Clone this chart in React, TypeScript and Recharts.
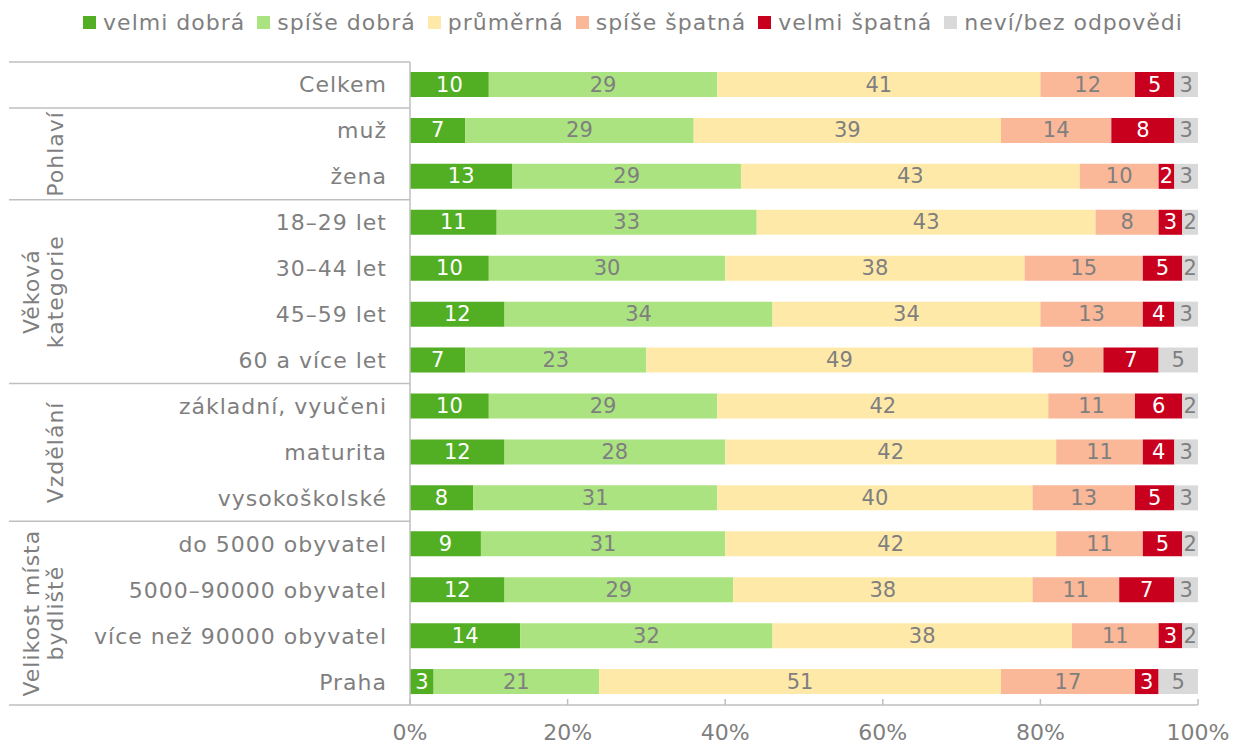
import React from 'react';
import { BarChart, Bar, XAxis, YAxis, Legend, LabelList } from 'recharts';

const categories = [
  'Celkem',
  'muž',
  'žena',
  '18–29 let',
  '30–44 let',
  '45–59 let',
  '60 a více let',
  'základní, vyučeni',
  'maturita',
  'vysokoškolské',
  'do 5000 obyvatel',
  '5000–90000 obyvatel',
  'více než 90000 obyvatel',
  'Praha',
];

const velmiDobra = [10, 7, 13, 11, 10, 12, 7, 10, 12, 8, 9, 12, 14, 3];
const spiseDobra = [29, 29, 29, 33, 30, 34, 23, 29, 28, 31, 31, 29, 32, 21];
const prumerna = [41, 39, 43, 43, 38, 34, 49, 42, 42, 40, 42, 38, 38, 51];
const spiseSpatna = [12, 14, 10, 8, 15, 13, 9, 11, 11, 13, 11, 11, 11, 17];
const velmiSpatna = [5, 8, 2, 3, 5, 4, 7, 6, 4, 5, 5, 7, 3, 3];
const nevi = [3, 3, 3, 2, 2, 3, 5, 2, 3, 3, 2, 3, 2, 5];

const xTicks = [0, 20, 40, 60, 80, 100];

// row groups of the two-level category axis
const groups = [
  { lines: [] as string[], from: 0, to: 0 },
  { lines: ['Pohlaví'], from: 1, to: 2 },
  { lines: ['Věková', 'kategorie'], from: 3, to: 6 },
  { lines: ['Vzdělání'], from: 7, to: 9 },
  { lines: ['Velikost místa', 'bydliště'], from: 10, to: 13 },
];

const series = [
  { key: 'velmiDobra', name: 'velmi dobrá', color: '#52AE23', text: '#FFFFFF' },
  { key: 'spiseDobra', name: 'spíše dobrá', color: '#AAE380', text: '#7F7F7F' },
  { key: 'prumerna', name: 'průměrná', color: '#FFE9A9', text: '#7F7F7F' },
  { key: 'spiseSpatna', name: 'spíše špatná', color: '#FBB898', text: '#7F7F7F' },
  { key: 'velmiSpatna', name: 'velmi špatná', color: '#C8001E', text: '#FFFFFF' },
  { key: 'nevi', name: 'neví/bez odpovědi', color: '#D9D9D9', text: '#7F7F7F' },
];

const data = categories.map((name, i) => ({
  name,
  velmiDobra: velmiDobra[i],
  spiseDobra: spiseDobra[i],
  prumerna: prumerna[i],
  spiseSpatna: spiseSpatna[i],
  velmiSpatna: velmiSpatna[i],
  nevi: nevi[i],
}));

const W = 1234;
const H = 745;
const GREY = '#7F7F7F';
const LINE = '#BFBFBF';
const FONT = '"DejaVu Sans", Verdana, sans-serif';
const SPACING = 1;

const MARGIN = { top: 22, right: 36, bottom: 0, left: 10 };
const LEGEND_H = 40;
const Y_AXIS_W = 400;
const X_AXIS_H = 40;
const AXIS_X = MARGIN.left + Y_AXIS_W;
const PLOT_TOP = MARGIN.top + LEGEND_H;
const PLOT_BOTTOM = H - MARGIN.bottom - X_AXIS_H;
const BAND = (PLOT_BOTTOM - PLOT_TOP) / categories.length;
const LABEL_GAP = 23;

const CategoryTick = (props: any) => {
  const { x, y, payload } = props;
  const i = categories.indexOf(payload.value);
  const half = BAND / 2;
  const g = groups.find((gr) => gr.from === i);
  const isLast = i === categories.length - 1;
  const cy = g ? y + ((g.to - g.from) * BAND) / 2 : 0;
  return (
    <g>
      <text
        x={x}
        y={y}
        textAnchor="end"
        dominantBaseline="central"
        fill={GREY}
        fontSize={22}
        letterSpacing={SPACING}
      >
        {payload.value}
      </text>
      {g && <line x1={9} x2={AXIS_X} y1={y - half} y2={y - half} stroke={LINE} strokeWidth={1.5} />}
      {isLast && <line x1={9} x2={AXIS_X} y1={y + half} y2={y + half} stroke={LINE} strokeWidth={1.5} />}
      {g &&
        g.lines.map((ln, j) => {
          const cx = 56 - (g.lines.length - 1 - j) * 24;
          return (
            <text
              key={ln}
              x={cx}
              y={cy}
              transform={`rotate(-90 ${cx} ${cy})`}
              textAnchor="middle"
              dominantBaseline="central"
              fill={GREY}
              fontSize={22}
              letterSpacing={SPACING}
            >
              {ln}
            </text>
          );
        })}
    </g>
  );
};

const PctTick = (props: any) => {
  const { x, y, payload } = props;
  return (
    <g>
      <line x1={x} x2={x} y1={y - 6} y2={y} stroke={LINE} strokeWidth={1.5} />
      <text x={x} y={y + 35} textAnchor="middle" fill={GREY} fontSize={22}>
        {payload.value}%
      </text>
    </g>
  );
};

const makeLabel = (color: string) => (props: any) => {
  const { x, y, width, height, value } = props;
  return (
    <text
      x={x + width / 2}
      y={y + height / 2}
      textAnchor="middle"
      dominantBaseline="central"
      fill={color}
      fontSize={21}
    >
      {value}
    </text>
  );
};

const LegendContent = () => (
  <div
    style={{
      display: 'flex',
      justifyContent: 'center',
      alignItems: 'center',
      height: LEGEND_H,
      paddingLeft: 44,
      fontSize: 22,
      letterSpacing: SPACING,
      color: GREY,
      fontFamily: FONT,
    }}
  >
    {series.map((s) => (
      <span key={s.key} style={{ display: 'flex', alignItems: 'center', marginRight: 12 }}>
        <span style={{ width: 13, height: 13, background: s.color, marginRight: 7, display: 'inline-block' }} />
        {s.name}
      </span>
    ))}
  </div>
);

export default function App() {
  return (
    <div style={{ position: 'absolute', left: 0, top: 0, width: W, height: H, background: '#fff', fontFamily: FONT }}>
      <BarChart width={W} height={H} data={data} layout="vertical" margin={MARGIN} barSize={25}>
        <Legend
          verticalAlign="top"
          height={LEGEND_H}
          content={<LegendContent />}
          wrapperStyle={{ top: 2, left: 0, width: W }}
        />
        <XAxis
          type="number"
          domain={[0, 100]}
          ticks={xTicks}
          interval={0}
          height={X_AXIS_H}
          axisLine={{ stroke: LINE, strokeWidth: 1.5 }}
          tickLine={false}
          tickSize={0}
          tickMargin={0}
          tick={<PctTick />}
        />
        <YAxis
          type="category"
          dataKey="name"
          width={Y_AXIS_W}
          interval={0}
          axisLine={{ stroke: LINE, strokeWidth: 1.5 }}
          tickLine={false}
          tickSize={0}
          tickMargin={LABEL_GAP}
          tick={<CategoryTick />}
        />
        {series.map((s) => (
          <Bar key={s.key} dataKey={s.key} name={s.name} stackId="a" fill={s.color} isAnimationActive={false}>
            <LabelList dataKey={s.key} content={makeLabel(s.text)} />
          </Bar>
        ))}
      </BarChart>
    </div>
  );
}
